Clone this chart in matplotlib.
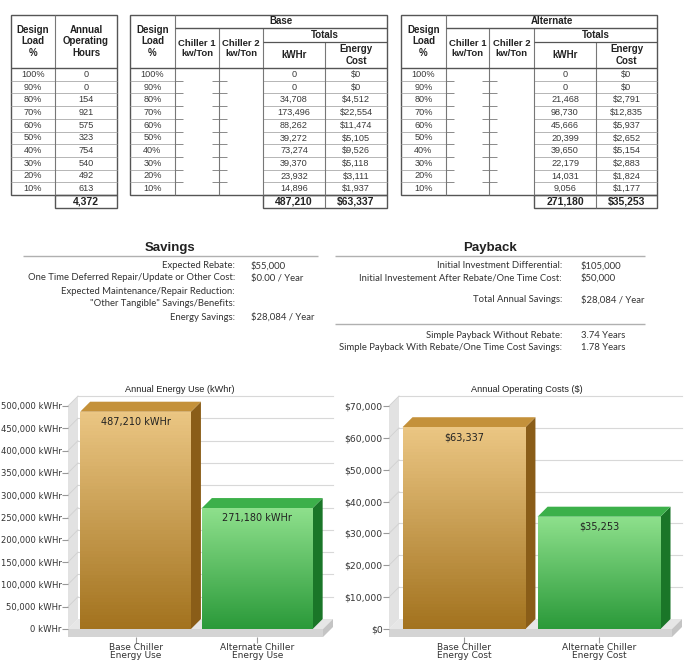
import matplotlib.pyplot as plt
import numpy as np
from matplotlib.patches import Polygon, Rectangle
from matplotlib.colors import LinearSegmentedColormap
from matplotlib.ticker import FuncFormatter

plt.rcParams['font.family'] = ['Liberation Sans', 'DejaVu Sans']

# ---- table data ----
load_pct = ['100%', '90%', '80%', '70%', '60%', '50%', '40%', '30%', '20%', '10%']
op_hours = [0, 0, 154, 921, 575, 323, 754, 540, 492, 613]
hours_total = 4372

base_kwh = [0, 0, 34708, 173496, 88262, 39272, 73274, 39370, 23932, 14896]
base_cost = [0, 0, 4512, 22554, 11474, 5105, 9526, 5118, 3111, 1937]
base_kwh_total = 487210
base_cost_total = 63337

alt_kwh = [0, 0, 21468, 98730, 45666, 20399, 39650, 22179, 14031, 9056]
alt_cost = [0, 0, 2791, 12835, 5937, 2652, 5154, 2883, 1824, 1177]
alt_kwh_total = 271180
alt_cost_total = 35253

# ---- savings / payback ----
savings_labels = ['Expected Rebate:', 'One Time Deferred Repair/Update or Other Cost:',
                  'Expected Maintenance/Repair Reduction:', '"Other Tangible" Savings/Benefits:',
                  'Energy Savings:']
savings_values = ['$55,000', '$0.00 / Year', '', '', '$28,084 / Year']
payback_labels = ['Initial Investment Differential:', 'Initial Investement After Rebate/One Time Cost:',
                  'Total Annual Savings:', 'Simple Payback Without Rebate:',
                  'Simple Payback With Rebate/One Time Cost Savings:']
payback_values = ['$105,000', '$50,000', '$28,084 / Year', '3.74 Years', '1.78 Years']

# ---- bar charts ----
energy_cats = ['Base Chiller\nEnergy Use', 'Alternate Chiller\nEnergy Use']
energy_vals = [487210, 271180]
cost_cats = ['Base Chiller\nEnergy Cost', 'Alternate Chiller\nEnergy Cost']
cost_vals = [63337, 35253]

W, H = 694, 665
fig = plt.figure(figsize=(W / 100, H / 100), dpi=100)
page = fig.add_axes([0, 0, 1, 1])
page.set_xlim(0, W)
page.set_ylim(H, 0)
page.axis('off')

TOP, HDR, ROW0, ROW_H = 15, 68, 68, 12.7
ROW_END = ROW0 + 10 * ROW_H
TOT_END = ROW_END + 13
DARK, MID, LIGHT = '#555555', '#777777', '#aaaaaa'
TXT = '#3a3a3a'
DFS = 6.6


def hl(x0, x1, y, c=LIGHT, lw=0.6):
    page.plot([x0, x1], [y, y], color=c, lw=lw, solid_capstyle='butt')


def vl(x, y0, y1, c=MID, lw=0.8):
    page.plot([x, x], [y0, y1], color=c, lw=lw, solid_capstyle='butt')


def box(x0, y0, x1, y1, c=DARK, lw=1.0):
    page.add_patch(Rectangle((x0, y0), x1 - x0, y1 - y0, fill=False, ec=c, lw=lw))


def row_y(i):
    return ROW0 + ROW_H * (i + 0.5)


def hdr(x, y, s, size=7):
    page.text(x, y, s, ha='center', va='center', fontsize=size, fontweight='bold',
              color='#222222', linespacing=1.2)


# table 1: operating hours
c0, c1, c2 = 11, 55, 117
for i in range(1, 10):
    hl(c0, c2, ROW0 + i * ROW_H)
vl(c1, TOP, ROW_END)
hl(c0, c2, HDR, DARK, 1.0)
box(c0, TOP, c2, ROW_END)
box(c1, ROW_END, c2, TOT_END)
hdr((c0 + c1) / 2, (TOP + HDR) / 2, 'Design\nLoad\n%')
hdr((c1 + c2) / 2, (TOP + HDR) / 2, 'Annual\nOperating\nHours')
for i in range(10):
    page.text((c0 + c1) / 2, row_y(i), load_pct[i], ha='center', va='center', fontsize=DFS, color=TXT)
    page.text((c1 + c2) / 2, row_y(i), f'{op_hours[i]:,}', ha='center', va='center', fontsize=DFS, color=TXT)
page.text((c1 + c2) / 2, (ROW_END + TOT_END) / 2, f'{hours_total:,}', ha='center', va='center',
          fontsize=7.5, fontweight='bold', color='#222222')


def plan_table(xs, title, kwh, cost, kwh_tot, cost_tot):
    x0, x1, x2, x3, x4, x5 = xs
    for i in range(1, 10):
        y = ROW0 + i * ROW_H
        hl(x0, x1, y)
        hl(x3, x5, y)
        hl(x1, x1 + 8, y, MID)
        hl(x2 - 7, x2 + 8, y, MID)
    vl(x1, TOP, ROW_END)
    vl(x2, 28, ROW_END)
    vl(x3, 28, ROW_END)
    vl(x4, 42, ROW_END)
    hl(x1, x5, 28, DARK, 1.0)
    hl(x3, x5, 42, DARK, 0.9)
    hl(x0, x5, HDR, DARK, 1.0)
    box(x0, TOP, x5, ROW_END)
    box(x3, ROW_END, x5, TOT_END)
    vl(x4, ROW_END, TOT_END)
    hdr((x0 + x1) / 2, (TOP + HDR) / 2, 'Design\nLoad\n%')
    hdr((x1 + x5) / 2, 21.5, title)
    hdr((x3 + x5) / 2, 35, 'Totals')
    hdr((x1 + x2) / 2, 48.5, 'Chiller 1\nkw/Ton', 6.8)
    hdr((x2 + x3) / 2, 48.5, 'Chiller 2\nkw/Ton', 6.8)
    hdr((x3 + x4) / 2, 55, 'kWHr')
    hdr((x4 + x5) / 2, 55, 'Energy\nCost')
    for i in range(10):
        y = row_y(i)
        page.text((x0 + x1) / 2, y, load_pct[i], ha='center', va='center', fontsize=DFS, color=TXT)
        page.text((x3 + x4) / 2, y, f'{kwh[i]:,}', ha='center', va='center', fontsize=DFS, color=TXT)
        page.text((x4 + x5) / 2, y, f'${cost[i]:,}', ha='center', va='center', fontsize=DFS, color=TXT)
    ty = (ROW_END + TOT_END) / 2
    page.text((x3 + x4) / 2, ty, f'{kwh_tot:,}', ha='center', va='center', fontsize=7.5,
              fontweight='bold', color='#222222')
    page.text((x4 + x5) / 2, ty, f'${cost_tot:,}', ha='center', va='center', fontsize=7.5,
              fontweight='bold', color='#222222')


plan_table([130, 175, 219, 263, 325, 387], 'Base', base_kwh, base_cost, base_kwh_total, base_cost_total)
plan_table([401, 446, 489, 534, 596, 657], 'Alternate', alt_kwh, alt_cost, alt_kwh_total, alt_cost_total)

# savings / payback block
SFONT = dict(fontsize=6.8, color='#333333', family=['Lato', 'DejaVu Sans'], va='center')
page.text(170, 248, 'Savings', ha='center', va='center', fontsize=9.5, fontweight='bold', color='#222222')
page.text(490, 248, 'Payback', ha='center', va='center', fontsize=9.5, fontweight='bold', color='#222222')
hl(23, 318, 256, '#b0b0b0', 1.0)
hl(335, 645, 256, '#b0b0b0', 1.0)
hl(335, 645, 324, '#b0b0b0', 1.0)
for y, lab, val in zip([266, 278, 291, 304, 317], savings_labels, savings_values):
    page.text(235, y, lab, ha='right', **SFONT)
    page.text(251, y, val, ha='left', **SFONT)
for y, lab, val in zip([266, 278, 300, 335, 347], payback_labels, payback_values):
    page.text(562, y, lab, ha='right', **SFONT)
    page.text(581, y, val, ha='left', **SFONT)

XMIN, XMAX, BW, DEP = -0.555, 1.54, 0.91, 10


def grad(ax, patch, ext, c_top, c_bot):
    cmap = LinearSegmentedColormap.from_list('g', [c_bot, c_top])
    im = ax.imshow(np.linspace(0, 1, 64).reshape(-1, 1), cmap=cmap, aspect='auto',
                   extent=ext, origin='lower', zorder=patch.get_zorder() + 0.1)
    im.set_clip_path(patch)


def bar_chart(px, cats, vals, ymax, step, tick_fmt, val_fmt, title, title_x, colors, ytick_size):
    l, r, t, b = px
    ax = fig.add_axes([l / W, 1 - b / H, (r - l) / W, (b - t) / H])
    ax.patch.set_alpha(0)
    ax.set_xlim(XMIN, XMAX)
    ax.set_ylim(0, ymax)
    dx = DEP * (XMAX - XMIN) / (r - l)
    dy = DEP * ymax / (b - t)
    ft = 8 * ymax / (b - t)

    # floor slab
    ax.add_patch(Polygon([(XMIN, 0), (XMAX, 0), (XMAX + dx, dy), (XMIN + dx, dy)],
                         fc='#e6e6e6', ec='none', clip_on=False, zorder=1))
    ax.add_patch(Rectangle((XMIN, -ft), XMAX - XMIN, ft, fc='#d4d4d4', ec='none', clip_on=False, zorder=1))
    ax.add_patch(Polygon([(XMAX, 0), (XMAX + dx, dy), (XMAX + dx, dy - ft), (XMAX, -ft)],
                         fc='#c4c4c4', ec='none', clip_on=False, zorder=1))
    # left wall
    ax.add_patch(Polygon([(XMIN, 0), (XMIN, ymax), (XMIN + dx, ymax + dy), (XMIN + dx, dy)],
                         fc='#e2e2e2', ec='none', clip_on=False, zorder=1))
    ticks = np.arange(0, ymax + 1, step)
    for v in ticks[1:]:
        ax.plot([XMIN + dx, XMAX + dx], [v + dy, v + dy], color='#d8d8d8', lw=0.8, clip_on=False, zorder=1.5)
        ax.plot([XMIN, XMIN + dx], [v, v + dy], color='#d0d0d0', lw=0.6, clip_on=False, zorder=1.5)

    xs = np.arange(len(vals))
    bars = ax.bar(xs, vals, width=BW, color=[c[1] for c in colors], zorder=5)
    for bar, v, (top_c, bot_c, side_c, lid_c) in zip(bars, vals, colors):
        x0 = bar.get_x()
        x1 = x0 + BW
        grad(ax, bar, [x0, x1, 0, v], top_c, bot_c)
        ax.add_patch(Polygon([(x1, 0), (x1, v), (x1 + dx, v + dy), (x1 + dx, dy)],
                             fc=side_c, ec='none', clip_on=False, zorder=5))
        ax.add_patch(Polygon([(x0, v), (x1, v), (x1 + dx, v + dy), (x0 + dx, v + dy)],
                             fc=lid_c, ec='none', clip_on=False, zorder=5))
        ax.annotate(val_fmt(v), (x0 + BW / 2, v), xytext=(0, -7.2), textcoords='offset points',
                    ha='center', va='center', fontsize=7, color='#222222', family='DejaVu Sans', zorder=7)

    for s in ax.spines.values():
        s.set_visible(False)
    ax.spines['bottom'].set_position(('outward', 6))
    ax.set_yticks(ticks)
    ax.yaxis.set_major_formatter(FuncFormatter(tick_fmt))
    ax.tick_params(axis='y', length=4, color='#999999', labelsize=ytick_size, labelcolor='#333333', pad=0.5)
    ax.set_xticks(xs, cats)
    ax.tick_params(axis='x', length=4, color='#999999', labelsize=6.5, labelcolor='#333333', pad=0)
    for lab in ax.get_xticklabels() + ax.get_yticklabels():
        lab.set_family('DejaVu Sans')
    for lab in ax.get_xticklabels():
        lab.set_linespacing(0.9)
    page.text(title_x, 390, title, ha='center', va='center', fontsize=6.6, color='#222222')
    return ax


gold = ('#ebc683', '#a3731f', '#8a5d18', '#c4913a')
green = ('#8ee08c', '#2b9a3a', '#1a7628', '#3cb04a')

bar_chart((68, 323, 406, 629), energy_cats, energy_vals, 500000, 50000,
          lambda v, p: f'{int(v):,} kWHr', lambda v: f'{v:,} kWHr',
          'Annual Energy Use (kWhr)', 180, [gold, green], 6.1)
bar_chart((389, 672, 406, 629), cost_cats, cost_vals, 70000, 10000,
          lambda v, p: f'${int(v):,}', lambda v: f'${v:,}',
          'Annual Operating Costs ($)', 527, [gold, green], 6.7)

fig.savefig('out.png', dpi=100)
